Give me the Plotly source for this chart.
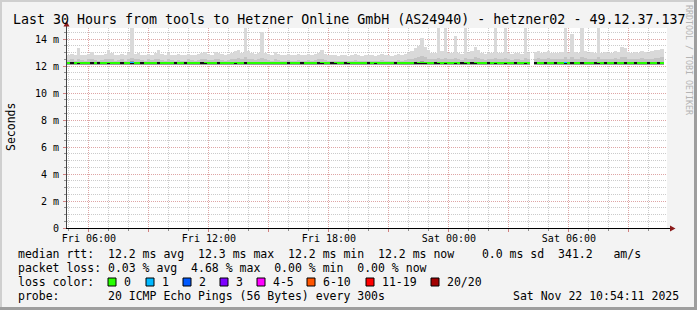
import plotly.graph_objects as go
from datetime import datetime, timedelta

# ---------------- data ----------------
START = "2025-11-21 04:54:11"
END = "2025-11-22 10:54:11"
STEP_MIN = 10  # one bin = 10 minutes

MEDIAN_MS = [
    12.2, 12.2, 12.2, 12.21, 12.2, 12.2, 12.2, 12.2, 12.2, 12.2, 12.2, 12.2, 12.21, 12.2, 12.2, 12.2, 12.2, 12.2, 12.2, 12.22,
    12.2, 12.2, 12.2, 12.2, 12.2, 12.2, 12.2, 12.21, 12.2, 12.2, 12.2, 12.2, 12.2, 12.2, 12.2, 12.2, 12.2, 12.2, 12.2, 12.2,
    12.2, 12.21, 12.2, 12.2, 12.2, 12.2, 12.2, 12.2, 12.2, 12.2, 12.21, 12.2, 12.2, 12.21, 12.2, 12.2, 12.2, 12.2, 12.2, 12.2,
    12.2, 12.2, 12.2, 12.2, 12.2, 12.2, 12.2, 12.2, 12.2, 12.2, 12.2, 12.2, 12.2, 12.2, 12.2, 12.2, 12.21, 12.2, 12.2, 12.2,
    12.19, 12.2, 12.2, 12.2, 12.19, 12.2, 12.2, 12.2, 12.2, 12.2, 12.2, 12.2, 12.19, 12.2, 12.2, 12.2, 12.2, 12.2, 12.2, 12.2,
    12.2, 12.2, 12.2, 12.2, 12.21, 12.21, 12.22, 12.21, 12.2, 12.2, 12.2, 12.21, 12.2, 12.21, 12.2, 12.2, 12.21, 12.2, 12.2, 12.21,
    12.2, 12.2, 12.21, 12.2, 12.2, 12.2, 12.2, 12.2, 12.21, 12.2, 12.2, 12.21, 12.2, 12.2, 12.2, 12.2, 12.2, 12.21, 12.2, None,
    12.2, 12.2, 12.2, 12.2, 12.2, 12.2, 12.2, 12.2, 12.2, 12.21, 12.2, 12.2, 12.2, 12.2, 12.21, 12.2, 12.2, 12.2, 12.2, 12.21,
    12.2, 12.2, 12.2, 12.2, 12.2, 12.2, 12.2, 12.2, 12.2, 12.2, 12.2, 12.2, 12.2, 12.2, 12.2, 12.2, 12.2, 12.2, 12.2, None,
]
LOW_MS = [
    12.1, 12.1, 12.09, 12.1, 12.1, 12.1, 12.1, 12.1, 12.09, 12.1, 12.1, 12.1, 12.1, 12.1, 12.1, 12.09, 12.1, 12.1, 12.1, 12.1,
    12.1, 12.1, 12.1, 12.1, 12.09, 12.1, 12.1, 12.1, 12.1, 12.1, 12.1, 12.1, 12.1, 12.1, 12.1, 12.1, 12.09, 12.1, 12.1, 12.1,
    12.1, 12.1, 12.1, 12.1, 12.1, 12.1, 12.1, 12.09, 12.1, 12.1, 12.1, 12.1, 12.1, 12.1, 12.1, 12.1, 12.1, 12.1, 12.1, 12.1,
    12.1, 12.09, 12.1, 12.1, 12.1, 12.1, 12.1, 12.1, 12.1, 12.1, 12.1, 12.1, 12.1, 12.09, 12.1, 12.1, 12.1, 12.1, 12.1, 12.1,
    12.1, 12.1, 12.1, 12.1, 12.1, 12.1, 12.1, 12.1, 12.1, 12.1, 12.1, 12.1, 12.1, 12.1, 12.1, 12.1, 12.1, 12.1, 12.1, 12.1,
    12.1, 12.1, 12.1, 12.1, 12.1, 12.1, 12.1, 12.1, 12.1, 12.1, 12.1, 12.1, 12.1, 12.1, 12.1, 12.1, 12.1, 12.1, 12.1, 12.1,
    12.1, 12.1, 12.1, 12.1, 12.1, 12.1, 12.1, 12.1, 12.1, 12.1, 12.1, 12.1, 12.1, 12.1, 12.1, 12.1, 12.1, 12.1, 12.1, None,
    12.1, 12.1, 12.1, 12.1, 12.1, 12.1, 12.1, 12.1, 12.1, 12.1, 12.1, 12.1, 12.1, 12.1, 12.1, 12.1, 12.1, 12.1, 12.1, 12.1,
    12.1, 12.1, 12.1, 12.1, 12.1, 12.1, 12.1, 12.1, 12.1, 12.1, 12.1, 12.1, 12.1, 12.1, 12.1, 12.1, 12.1, 12.1, 12.1, None,
]
MID_MS = [
    12.45, 12.5, 12.4, 12.55, 12.45, 12.4, 12.5, 12.5, 12.45, 12.4, 12.45, 12.5, 12.55, 12.5, 12.4, 12.45, 12.5, 12.4, 12.5, 12.6,
    12.5, 12.55, 12.45, 12.4, 12.5, 12.45, 12.5, 12.55, 12.45, 12.4, 12.5, 12.45, 12.4, 12.45, 12.4, 12.4, 12.5, 12.45, 12.4, 12.45,
    12.5, 12.55, 12.45, 12.45, 12.5, 12.5, 12.45, 12.4, 12.45, 12.5, 12.55, 12.6, 12.5, 12.65, 12.55, 12.5, 12.45, 12.5, 12.6, 12.5,
    12.45, 12.4, 12.5, 12.45, 12.4, 12.4, 12.45, 12.4, 12.4, 12.45, 12.4, 12.4, 12.45, 12.4, 12.45, 12.5, 12.55, 12.45, 12.4, 12.4,
    12.4, 12.35, 12.4, 12.4, 12.35, 12.4, 12.45, 12.4, 12.35, 12.4, 12.4, 12.4, 12.35, 12.4, 12.45, 12.4, 12.4, 12.35, 12.4, 12.45,
    12.4, 12.45, 12.5, 12.55, 12.6, 12.7, 12.75, 12.65, 12.55, 12.5, 12.5, 12.6, 12.55, 12.6, 12.5, 12.5, 12.6, 12.5, 12.45, 12.6,
    12.5, 12.55, 12.65, 12.6, 12.5, 12.45, 12.5, 12.5, 12.6, 12.5, 12.5, 12.6, 12.5, 12.45, 12.5, 12.5, 12.45, 12.6, 12.5, None,
    12.55, 12.6, 12.55, 12.55, 12.6, 12.55, 12.5, 12.55, 12.55, 12.65, 12.55, 12.65, 12.55, 12.5, 12.65, 12.6, 12.55, 12.55, 12.5, 12.65,
    12.55, 12.55, 12.5, 12.55, 12.6, 12.55, 12.7, 12.65, 12.55, 12.5, 12.55, 12.5, 12.6, 12.55, 12.5, 12.55, 12.6, 12.6, 12.65, None,
]
MAX_MS = [
    12.85, 12.9, 12.8, 13.3, 12.85, 12.8, 12.9, 13.05, 12.85, 12.8, 12.85, 12.9, 13.2, 12.95, 12.8, 12.85, 12.9, 12.8, 12.95, 15.5,
    12.9, 13.0, 12.85, 12.8, 12.9, 12.85, 12.95, 13.2, 12.9, 12.85, 13.0, 12.85, 12.8, 12.9, 12.85, 12.8, 12.9, 12.85, 12.8, 12.9,
    13.0, 13.05, 12.9, 12.85, 13.05, 13.0, 12.9, 12.85, 12.9, 13.0, 13.1, 13.2, 13.0, 15.5, 13.1, 12.95, 12.9, 13.0, 14.55, 12.95,
    12.9, 12.85, 13.05, 12.9, 12.85, 12.8, 12.9, 12.85, 12.8, 12.9, 12.85, 12.8, 12.9, 12.85, 12.9, 12.95, 13.2, 12.9, 12.85, 12.8,
    12.8, 12.75, 12.8, 12.85, 12.75, 12.8, 12.9, 12.8, 12.75, 12.8, 12.85, 12.8, 12.75, 12.8, 12.9, 12.85, 12.8, 12.75, 12.85, 12.9,
    12.85, 12.9, 12.95, 13.1, 13.3, 13.5, 14.1, 13.4, 13.2, 13.0, 12.95, 15.5, 13.1, 15.5, 13.0, 12.95, 14.2, 13.0, 12.9, 15.5,
    12.95, 13.1, 13.4, 13.2, 12.95, 12.9, 13.0, 12.95, 15.5, 13.0, 12.95, 15.5, 13.0, 12.9, 12.95, 13.0, 12.9, 15.5, 12.95, None,
    13.05, 13.1, 13.0, 13.05, 13.1, 13.0, 12.95, 13.0, 13.05, 15.5, 13.0, 14.4, 13.05, 13.0, 15.5, 13.1, 13.0, 13.05, 12.95, 15.5,
    13.0, 13.05, 12.95, 13.0, 13.1, 13.05, 13.4, 13.3, 13.05, 13.0, 13.05, 13.0, 13.1, 13.05, 13.0, 13.1, 13.2, 13.15, 13.25, None,
]
# top of the darkest core of the smoke (shows as black specks on the median line)
CORE_MS = [
    12.2, 12.26, 12.2, 12.2, 12.2, 12.2, 12.2, 12.26, 12.2, 12.26, 12.2, 12.2, 12.2, 12.2, 12.2, 12.2, 12.26, 12.2, 12.2, 12.2,
    12.2, 12.2, 12.26, 12.2, 12.2, 12.2, 12.2, 12.26, 12.2, 12.2, 12.2, 12.2, 12.26, 12.2, 12.2, 12.26, 12.2, 12.2, 12.2, 12.2,
    12.26, 12.2, 12.2, 12.2, 12.2, 12.26, 12.2, 12.2, 12.2, 12.2, 12.2, 12.2, 12.2, 12.26, 12.2, 12.2, 12.2, 12.2, 12.2, 12.2,
    12.2, 12.2, 12.2, 12.2, 12.2, 12.2, 12.26, 12.2, 12.2, 12.2, 12.26, 12.2, 12.2, 12.2, 12.2, 12.26, 12.2, 12.2, 12.2, 12.26,
    12.2, 12.2, 12.2, 12.26, 12.2, 12.2, 12.2, 12.2, 12.2, 12.2, 12.26, 12.2, 12.2, 12.2, 12.2, 12.2, 12.2, 12.2, 12.26, 12.2,
    12.2, 12.2, 12.2, 12.2, 12.26, 12.2, 12.2, 12.2, 12.2, 12.2, 12.26, 12.2, 12.2, 12.2, 12.2, 12.2, 12.2, 12.2, 12.26, 12.2,
    12.2, 12.26, 12.2, 12.2, 12.2, 12.2, 12.26, 12.2, 12.2, 12.2, 12.2, 12.2, 12.2, 12.2, 12.26, 12.2, 12.2, 12.2, 12.2, None,
    12.26, 12.2, 12.2, 12.26, 12.2, 12.2, 12.26, 12.2, 12.2, 12.2, 12.2, 12.26, 12.2, 12.2, 12.26, 12.2, 12.2, 12.2, 12.26, 12.2,
    12.2, 12.26, 12.2, 12.2, 12.26, 12.2, 12.2, 12.26, 12.2, 12.2, 12.26, 12.2, 12.2, 12.2, 12.26, 12.2, 12.2, 12.26, 12.2, None,
]
LOSS = [
    0, 0, 0, 0, 0, 0, 0, 0, 0, 0, 0, 0, 0, 0, 0, 0, 0, 0, 0, 1,
    0, 0, 0, 0, 0, 0, 0, 0, 0, 0, 0, 0, 0, 0, 0, 0, 0, 0, 0, 0,
    0, 0, 0, 0, 0, 0, 0, 0, 0, 0, 0, 0, 0, 0, 0, 0, 0, 0, 0, 0,
    0, 0, 0, 0, 0, 0, 0, 0, 0, 0, 0, 0, 0, 0, 0, 0, 0, 0, 0, 0,
    0, 0, 0, 0, 0, 0, 0, 0, 0, 0, 0, 0, 0, 0, 0, 0, 0, 0, 0, 0,
    0, 0, 0, 0, 0, 0, 0, 0, 0, 0, 0, 0, 0, 0, 0, 0, 0, 0, 0, 0,
    0, 0, 0, 0, 0, 0, 0, 0, 0, 0, 0, 0, 0, 0, 0, 0, 0, 0, 0, None,
    0, 0, 0, 0, 0, 0, 0, 0, 0, 1, 0, 0, 0, 0, 0, 0, 0, 0, 0, 0,
    0, 0, 0, 0, 0, 0, 0, 0, 0, 0, 0, 0, 0, 0, 0, 0, 0, 0, 0, None,
]

TICK_TIMES = ["2025-11-21 06:00", "2025-11-21 09:00", "2025-11-21 12:00", "2025-11-21 15:00",
              "2025-11-21 18:00", "2025-11-21 21:00", "2025-11-22 00:00", "2025-11-22 03:00",
              "2025-11-22 06:00", "2025-11-22 09:00"]
TICK_LABELS = ["Fri 06:00", "", "Fri 12:00", "", "Fri 18:00", "", "Sat 00:00", "", "Sat 06:00", ""]
Y_TICKS = [0, 2, 4, 6, 8, 10, 12, 14]
Y_LABELS = ["0", "2 m", "4 m", "6 m", "8 m", "10 m", "12 m", "14 m"]

LOSS_LABELS = ["0", "1", "2", "3", "4-5", "6-10", "11-19", "20/20"]
LOSS_COLORS = ["#26ff00", "#00b8ff", "#0059ff", "#7e00ff", "#ff00ff", "#ff5500", "#ff0000", "#a10000"]
LOSS_UPPER = [0, 1, 2, 3, 5, 10, 19, 20]

TITLE = "Last 30 Hours from tools to Hetzner Online GmbH (AS24940) - hetzner02 - 49.12.37.137"
ROW_RTT = "median rtt:  12.2 ms avg  12.3 ms max  12.2 ms min  12.2 ms now    0.0 ms sd  341.2   am/s"
ROW_LOSS = "packet loss: 0.03 % avg  4.68 % max  0.00 % min  0.00 % now"
ROW_COLOR = "loss color:"
ROW_PROBE = "probe:       20 ICMP Echo Pings (56 Bytes) every 300s"
STAMP = "Sat Nov 22 10:54:11 2025"

# ---------------- layout geometry (pixels) ----------------
W, H = 697, 310
PL, PR, PT, PB = 67, 667, 28, 228
MONO = "DejaVu Sans Mono"


def px(x):
    return (x - PL) / (PR - PL)


def py(y):
    return (PB - y) / (PB - PT)


t0 = datetime.strptime(START, "%Y-%m-%d %H:%M:%S")
times = [t0 + timedelta(minutes=STEP_MIN * (i + 0.5)) for i in range(len(MEDIAN_MS))]
bw = STEP_MIN * 60 * 1000


def span(hi, lo):
    return [None if (h is None or l is None) else h - l for h, l in zip(hi, lo)]


def loss_color(v):
    if v is None:
        return "rgba(0,0,0,0)"
    for up, c in zip(LOSS_UPPER, LOSS_COLORS):
        if v <= up:
            return c
    return LOSS_COLORS[-1]


fig = go.Figure()
common = dict(x=times, width=bw, hoverinfo="skip", showlegend=False, opacity=1)
fig.add_trace(go.Bar(y=span(MAX_MS, LOW_MS), base=LOW_MS,
                     marker=dict(color="#d9d9d9", line=dict(width=0)), **common))
fig.add_trace(go.Bar(y=span(MID_MS, LOW_MS), base=LOW_MS,
                     marker=dict(color="#c4c4c4", line=dict(width=0)), **common))
fig.add_trace(go.Bar(y=span([None if m is None else m + 0.12 for m in MEDIAN_MS], LOW_MS), base=LOW_MS,
                     marker=dict(color="#9a9a9a", line=dict(width=0)), **common))
fig.add_trace(go.Bar(y=[None if m is None else 0.15 for m in MEDIAN_MS],
                     base=[None if m is None else m - 0.075 for m in MEDIAN_MS],
                     marker=dict(color=[loss_color(v) for v in LOSS], line=dict(width=0)), **common))
fig.add_trace(go.Bar(y=span(CORE_MS, MEDIAN_MS), base=MEDIAN_MS,
                     marker=dict(color="#111111", line=dict(width=0)), **common))

RED_GRID = "rgba(235,140,140,0.6)"
GRAY_GRID = "rgba(160,160,160,0.55)"

fig.update_layout(
    width=W, height=H, autosize=False,
    margin=dict(l=PL, r=W - PR, t=PT, b=H - PB, pad=0),
    paper_bgcolor="#f3f3f3", plot_bgcolor="#ffffff",
    barmode="overlay", bargap=0,
    font=dict(family=MONO, size=10, color="#000000"),
    xaxis=dict(
        type="date", range=[START, END],
        tickvals=TICK_TIMES, ticktext=TICK_LABELS,
        showgrid=True, gridcolor=RED_GRID, griddash="1px,1px", gridwidth=1,
        ticks="outside", ticklen=3, tickcolor="#d08080", tickwidth=1,
        minor=dict(dtick=3600000, tick0="2025-11-21 05:00", showgrid=True,
                   gridcolor=GRAY_GRID, griddash="1px,1px", gridwidth=1,
                   ticks="outside", ticklen=2, tickcolor="#909090"),
        showline=True, linecolor="#000000", linewidth=1, zeroline=False,
        tickfont=dict(family=MONO, size=10, color="#000000"),
        ticklabelstandoff=-2,
        fixedrange=True,
    ),
    yaxis=dict(
        range=[0, (PB - PT) / 13.5],
        tickvals=Y_TICKS, ticktext=Y_LABELS,
        showgrid=True, gridcolor=RED_GRID, griddash="1px,1px", gridwidth=1,
        ticks="outside", ticklen=3, tickcolor="#d08080", tickwidth=1,
        minor=dict(dtick=0.5, tick0=0, showgrid=True,
                   gridcolor=GRAY_GRID, griddash="1px,1px", gridwidth=1,
                   ticks="outside", ticklen=2, tickcolor="#909090"),
        showline=True, linecolor="#444444", linewidth=1, zeroline=False,
        tickfont=dict(family=MONO, size=10, color="#000000"),
        ticklabelstandoff=2,
        fixedrange=True,
    ),
)

shapes = []
# frame shading
shapes.append(dict(type="rect", xref="paper", yref="paper", x0=px(0), x1=px(W), y0=py(0), y1=py(2),
                   fillcolor="#cfcfcf", line=dict(width=0), layer="below"))
shapes.append(dict(type="rect", xref="paper", yref="paper", x0=px(0), x1=px(2), y0=py(0), y1=py(H),
                   fillcolor="#cfcfcf", line=dict(width=0), layer="below"))
shapes.append(dict(type="rect", xref="paper", yref="paper", x0=px(W - 3), x1=px(W), y0=py(0), y1=py(H),
                   fillcolor="#9e9e9e", line=dict(width=0), layer="below"))
shapes.append(dict(type="rect", xref="paper", yref="paper", x0=px(0), x1=px(W), y0=py(H - 3), y1=py(H),
                   fillcolor="#9e9e9e", line=dict(width=0), layer="below"))
# axis extensions and arrows
shapes.append(dict(type="line", xref="paper", yref="paper", x0=px(PR), x1=px(671), y0=py(PB + 0.5), y1=py(PB + 0.5),
                   line=dict(color="#000000", width=1)))
shapes.append(dict(type="line", xref="paper", yref="paper", x0=px(PL - 0.5), x1=px(PL - 0.5), y0=py(PT), y1=py(24),
                   line=dict(color="#444444", width=1)))
shapes.append(dict(type="path", xref="paper", yref="paper",
                   path=f"M {px(670)} {py(225.5)} L {px(675.5)} {py(228.5)} L {px(670)} {py(231.5)} Z",
                   fillcolor="#8b1a1a", line=dict(width=0)))
shapes.append(dict(type="path", xref="paper", yref="paper",
                   path=f"M {px(63.5)} {py(26.5)} L {px(66.5)} {py(21)} L {px(69.5)} {py(26.5)} Z",
                   fillcolor="#8b1a1a", line=dict(width=0)))

ann = []


def text(x, y, s, size=11.5, anchor="left", color="#000000", angle=0):
    ann.append(dict(xref="paper", yref="paper", x=px(x), y=py(y), text=s, showarrow=False,
                    xanchor=anchor, yanchor="middle", textangle=angle,
                    font=dict(family=MONO, size=size, color=color)))


text(W / 2, 19, TITLE, size=13.3, anchor="center")
text(11, 127, "Seconds", size=11.5, anchor="center", angle=-90)
text(689, 60, "RRDTOOL / TOBI OETIKER", size=8.3, anchor="center", color="#b4b4b4", angle=90)
text(16, 254, ROW_RTT)
text(16, 268, ROW_LOSS)
text(16, 282, ROW_COLOR)
text(16, 296, ROW_PROBE)
text(681, 296, STAMP, anchor="right")

SQUARE_X = [108, 146, 183, 220, 257, 307, 366, 431]
for sx, lab, col in zip(SQUARE_X, LOSS_LABELS, LOSS_COLORS):
    shapes.append(dict(type="rect", xref="paper", yref="paper", x0=px(sx), x1=px(sx + 8),
                       y0=py(286), y1=py(278), fillcolor=col, line=dict(color="#000000", width=1)))
    text(sx + 14, 282, lab)

fig.update_layout(shapes=shapes, annotations=ann)
fig.write_html("out.html")
